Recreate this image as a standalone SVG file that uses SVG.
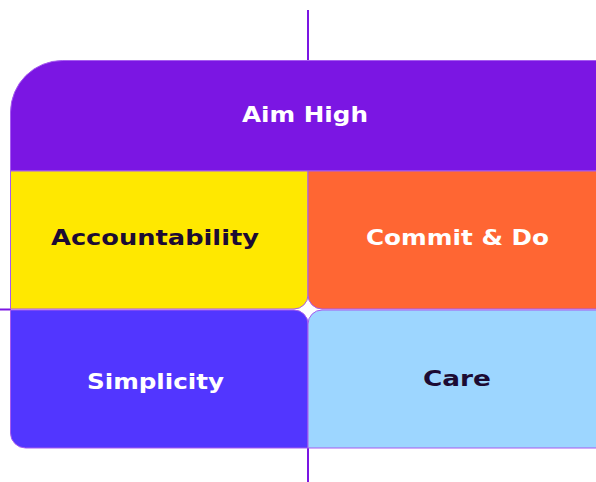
<svg xmlns="http://www.w3.org/2000/svg" width="596" height="482" viewBox="0 0 596 482">
  <style>
    .tile { stroke: #A65BEF; stroke-width: 1; }
    .guide { stroke: #7B16E3; stroke-width: 2; fill: none; }
    .label { font-family: "DejaVu Sans", "Liberation Sans", sans-serif; font-weight: bold; text-anchor: middle; }
    .light { fill: #FFFFFF; }
    .dark { fill: #1C0B33; }
  </style>
  <rect width="596" height="482" fill="#FFFFFF"/>

  <!-- guide lines -->
  <g id="connectors">
    <line class="guide" x1="308" y1="10" x2="308" y2="61"/>
    <line class="guide" x1="308" y1="448" x2="308" y2="482"/>
    <line class="guide" x1="0" y1="309.5" x2="11" y2="309.5"/>
  </g>

  <g id="aim-high">
    <path class="tile" fill="#7B16E3" d="M10.5,112 A52,52 0 0 1 62.5,60.5 H597 V171 H10.5 Z"/>
    <text class="label light" x="305" y="122" font-size="21" textLength="126" lengthAdjust="spacingAndGlyphs">Aim High</text>
  </g>

  <g id="accountability">
    <path class="tile" fill="#FFE800" d="M10.5,171 H308 V295 A14,14 0 0 1 294,309 H10.5 Z"/>
    <text class="label dark" x="155" y="245" font-size="21" textLength="208" lengthAdjust="spacingAndGlyphs">Accountability</text>
  </g>

  <g id="commit-do">
    <path class="tile" fill="#FF6633" d="M308,171 H597 V309 H322 A14,14 0 0 1 308,295 Z"/>
    <text class="label light" x="457.5" y="245" font-size="21" textLength="183" lengthAdjust="spacingAndGlyphs">Commit &amp; Do</text>
  </g>

  <g id="simplicity">
    <path class="tile" fill="#5236FF" d="M10.5,310 H294 A14,14 0 0 1 308,324 V448 H25.5 A15,15 0 0 1 10.5,433 Z"/>
    <text class="label light" x="155.5" y="389" font-size="21" textLength="137" lengthAdjust="spacingAndGlyphs">Simplicity</text>
  </g>

  <g id="care">
    <path class="tile" fill="#9DD6FF" d="M322,310 H597 V448 H308 V324 A14,14 0 0 1 322,310 Z"/>
    <text class="label dark" x="457" y="386" font-size="21" textLength="68" lengthAdjust="spacingAndGlyphs">Care</text>
  </g>
</svg>
